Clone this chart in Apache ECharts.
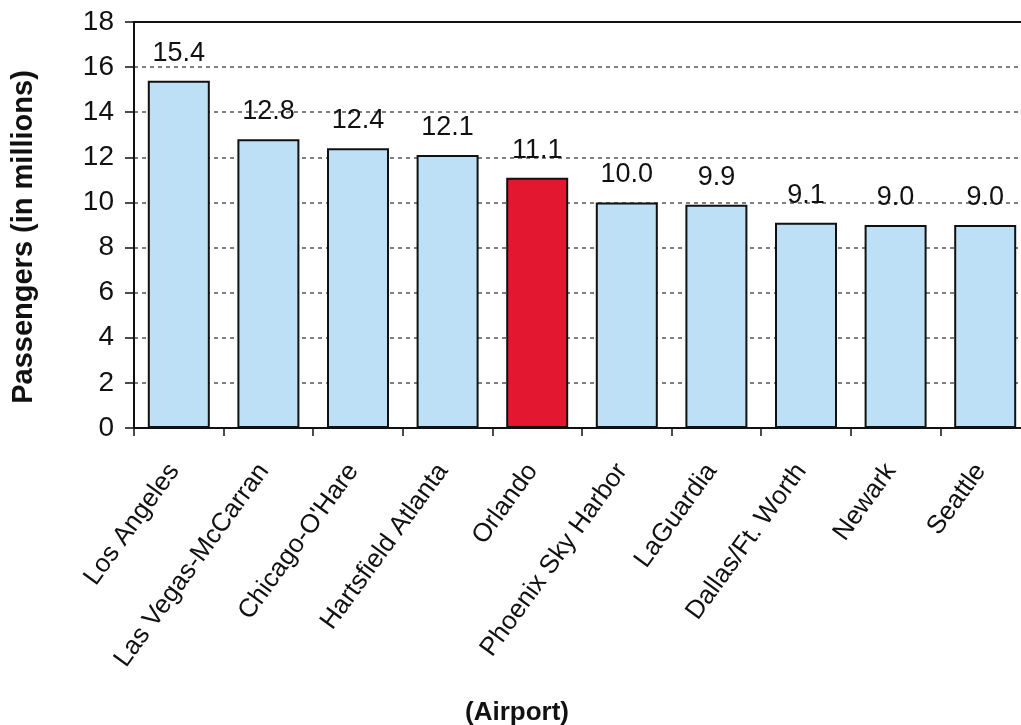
<!DOCTYPE html>
<html>
<head>
<meta charset="utf-8">
<script src="https://cdn.jsdelivr.net/npm/echarts@6/dist/echarts.min.js"></script>
<style>
html,body{margin:0;padding:0;background:#fff;}
#chart{width:1021px;height:725px;}
</style>
</head>
<body>
<div id="chart"></div>
<script>
var categories = ["Los Angeles","Las Vegas-McCarran","Chicago-O'Hare","Hartsfield Atlanta","Orlando","Phoenix Sky Harbor","LaGuardia","Dallas/Ft. Worth","Newark","Seattle"];
var passengers = [15.4, 12.8, 12.4, 12.1, 11.1, 10.0, 9.9, 9.1, 9.0, 9.0];
var highlightIndex = 4;
var yTitle = "Passengers (in millions)";
var xTitle = "(Airport)";

var FONT = '"Liberation Sans", Arial, sans-serif';
var chart = echarts.init(document.getElementById('chart'), null, {renderer: 'canvas'});

var data = passengers.map(function (v, i) {
  return {
    value: v,
    itemStyle: { color: i === highlightIndex ? '#e3172f' : '#bde0f6' }
  };
});

chart.setOption({
  animation: false,
  backgroundColor: '#ffffff',
  grid: { left: 134, top: 22, bottom: 297, width: 896, containLabel: false, outerBoundsMode: 'none' },
  xAxis: [{
    type: 'category',
    data: categories,
    position: 'bottom',
    axisLine: { lineStyle: { color: '#111', width: 2 } },
    axisTick: { show: true, length: 8, lineStyle: { color: '#111', width: 1.5 } },
    axisLabel: {
      rotate: 54, margin: 32, color: '#111',
      fontFamily: FONT, fontSize: 26, interval: 0,
      padding: [0, 8, 0, 0]
    },
    name: xTitle,
    nameLocation: 'middle',
    nameGap: 272,
    nameTextStyle: { fontFamily: FONT, fontSize: 26, fontWeight: 'bold', color: '#111', padding: [0, 130, 0, 0] }
  }, {
    type: 'category',
    data: categories,
    position: 'top',
    axisLine: { show: true, lineStyle: { color: '#111', width: 2 } },
    axisTick: { show: false },
    axisLabel: { show: false }
  }],
  yAxis: {
    type: 'value',
    min: 0, max: 18, interval: 2,
    axisLine: { show: true, lineStyle: { color: '#111', width: 2 } },
    axisTick: { show: true, length: 9, lineStyle: { color: '#111', width: 1.5 } },
    axisLabel: { margin: 20, color: '#111', fontFamily: FONT, fontSize: 28 },
    splitLine: { show: true, lineStyle: { color: '#555', width: 1.5, type: [4, 4] } },
    name: yTitle,
    nameLocation: 'middle',
    nameGap: 96,
    nameTextStyle: { fontFamily: FONT, fontSize: 29, fontWeight: 'bold', color: '#111', padding: [0, 24, 0, 0] }
  },
  series: [{
    type: 'bar',
    data: data,
    barWidth: 62,
    itemStyle: { borderColor: '#111', borderWidth: 2 },
    label: {
      show: true, position: 'top', distance: 14,
      formatter: function (p) { return p.value.toFixed(1); },
      fontFamily: FONT, fontSize: 27, color: '#111'
    }
  }]
});
</script>
</body>
</html>
